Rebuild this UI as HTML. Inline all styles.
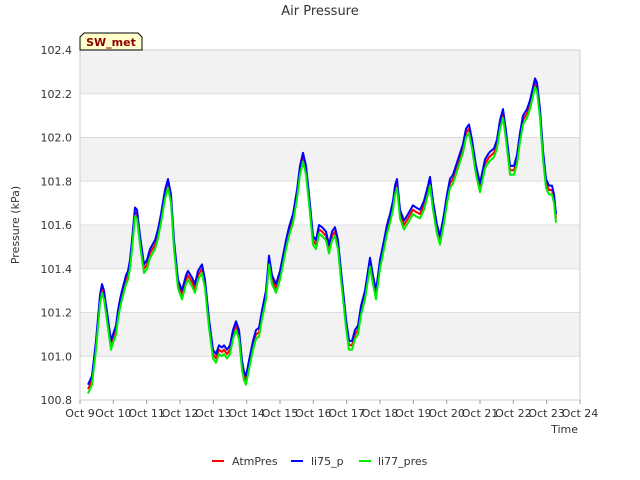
<!DOCTYPE html>
<html><head><meta charset="utf-8"><style>
body{margin:0;background:#fff;}
svg{display:block;font-family:"DejaVu Sans","Liberation Sans",sans-serif;}
</style></head><body>
<svg id="chart" width="640" height="480">
<rect x="0" y="0" width="640" height="480" fill="#fff"/>
<g id="bands"></g>
<g id="grid"></g>
<rect x="80" y="50" width="500" height="350" fill="none" stroke="#ccc"/>
<g id="yticks"></g>
<g id="xticks"></g>
<g id="series"></g>
<text x="320" y="15" text-anchor="middle" font-size="13" fill="#333">Air Pressure</text>
<text x="19" y="225" text-anchor="middle" font-size="11" fill="#333" transform="rotate(-90 19 225)">Pressure (kPa)</text>
<text x="578" y="433" text-anchor="end" font-size="11" fill="#333">Time</text>
<g>
<path d="M80,50 L80,37 L84,33 L138,33 L142,37 L142,50 Z" fill="#ffffcc" stroke="#000" stroke-width="1"/>
<text x="111" y="46" text-anchor="middle" font-size="11" font-weight="bold" fill="#8b0000">SW_met</text>
</g>
<g>
<g><line x1="212" y1="461" x2="224" y2="461" stroke="#f00" stroke-width="2"/><text x="232" y="465" font-size="11" fill="#333">AtmPres</text></g>
<g><line x1="291" y1="461" x2="303" y2="461" stroke="#00f" stroke-width="2"/><text x="311" y="465" font-size="11" fill="#333">li75_p</text></g>
<g><line x1="359" y1="461" x2="371" y2="461" stroke="#0e0" stroke-width="2"/><text x="378" y="465" font-size="11" fill="#333">li77_pres</text></g>
</g>
</svg>
<script>
const yTicks=[100.8,101.0,101.2,101.4,101.6,101.8,102.0,102.2,102.4];
const xTickLabels=["Oct 9","Oct 10","Oct 11","Oct 12","Oct 13","Oct 14","Oct 15","Oct 16","Oct 17","Oct 18","Oct 19","Oct 20","Oct 21","Oct 22","Oct 23","Oct 24"];
const times=[0.24,0.36,0.48,0.60,0.66,0.72,0.84,0.93,0.99,1.08,1.14,1.20,1.26,1.38,1.44,1.50,1.56,1.65,1.71,1.80,1.92,2.01,2.10,2.25,2.34,2.43,2.55,2.64,2.73,2.82,2.94,3.06,3.18,3.24,3.36,3.45,3.54,3.66,3.75,3.87,3.99,4.08,4.17,4.26,4.32,4.41,4.50,4.59,4.68,4.77,4.86,4.92,4.98,5.07,5.19,5.28,5.37,5.46,5.58,5.67,5.76,5.88,6.00,6.09,6.18,6.27,6.39,6.51,6.60,6.69,6.78,6.87,6.99,7.08,7.17,7.26,7.38,7.47,7.56,7.65,7.74,7.83,7.92,7.98,8.07,8.16,8.25,8.34,8.43,8.55,8.64,8.70,8.79,8.88,9.00,9.12,9.21,9.30,9.39,9.45,9.51,9.60,9.72,9.84,9.99,10.08,10.20,10.32,10.44,10.50,10.59,10.71,10.80,10.92,11.01,11.10,11.19,11.34,11.49,11.58,11.67,11.76,11.88,12.00,12.15,12.27,12.42,12.51,12.60,12.69,12.78,12.90,13.02,13.11,13.20,13.29,13.41,13.50,13.59,13.65,13.71,13.80,13.89,13.98,14.07,14.16,14.22,14.28];
const atmPres=[100.85,100.89,101.05,101.26,101.31,101.28,101.15,101.05,101.08,101.12,101.19,101.24,101.28,101.35,101.37,101.42,101.51,101.66,101.65,101.53,101.40,101.42,101.47,101.51,101.56,101.63,101.74,101.79,101.72,101.51,101.33,101.28,101.35,101.37,101.34,101.31,101.37,101.40,101.33,101.15,101.01,100.99,101.03,101.02,101.03,101.01,101.03,101.10,101.14,101.10,100.96,100.91,100.89,100.96,101.05,101.10,101.11,101.19,101.28,101.44,101.35,101.31,101.37,101.44,101.51,101.57,101.63,101.74,101.85,101.91,101.85,101.72,101.53,101.51,101.58,101.57,101.55,101.49,101.55,101.57,101.51,101.37,101.24,101.15,101.05,101.05,101.10,101.12,101.21,101.28,101.37,101.43,101.35,101.28,101.42,101.51,101.58,101.63,101.69,101.76,101.79,101.65,101.60,101.63,101.67,101.66,101.65,101.69,101.76,101.80,101.69,101.58,101.53,101.63,101.72,101.79,101.81,101.88,101.95,102.02,102.04,101.97,101.85,101.77,101.88,101.91,101.93,101.97,102.06,102.11,102.01,101.85,101.85,101.90,102.00,102.08,102.11,102.15,102.21,102.25,102.23,102.11,101.92,101.79,101.76,101.76,101.72,101.63];
const li75P=[100.87,100.91,101.07,101.28,101.33,101.30,101.17,101.07,101.10,101.14,101.21,101.26,101.30,101.37,101.39,101.44,101.53,101.68,101.67,101.55,101.42,101.44,101.49,101.53,101.58,101.65,101.76,101.81,101.74,101.53,101.35,101.30,101.37,101.39,101.36,101.33,101.39,101.42,101.35,101.17,101.03,101.01,101.05,101.04,101.05,101.03,101.05,101.12,101.16,101.12,100.98,100.93,100.91,100.98,101.07,101.12,101.13,101.21,101.30,101.46,101.37,101.33,101.39,101.46,101.53,101.59,101.65,101.76,101.87,101.93,101.87,101.74,101.55,101.53,101.60,101.59,101.57,101.51,101.57,101.59,101.53,101.39,101.26,101.17,101.07,101.07,101.12,101.14,101.23,101.30,101.39,101.45,101.37,101.30,101.44,101.53,101.60,101.65,101.71,101.78,101.81,101.67,101.62,101.65,101.69,101.68,101.67,101.71,101.78,101.82,101.71,101.60,101.55,101.65,101.74,101.81,101.83,101.90,101.97,102.04,102.06,101.99,101.87,101.79,101.90,101.93,101.95,101.99,102.08,102.13,102.03,101.87,101.87,101.92,102.02,102.10,102.13,102.17,102.23,102.27,102.25,102.13,101.94,101.81,101.78,101.78,101.74,101.65];
const li77Pres=[100.83,100.87,101.03,101.24,101.29,101.26,101.13,101.03,101.06,101.10,101.17,101.22,101.26,101.33,101.35,101.40,101.49,101.64,101.63,101.51,101.38,101.40,101.45,101.49,101.54,101.61,101.72,101.77,101.70,101.49,101.31,101.26,101.33,101.35,101.32,101.29,101.35,101.38,101.31,101.13,100.99,100.97,101.01,101.00,101.01,100.99,101.01,101.08,101.12,101.08,100.94,100.89,100.87,100.94,101.03,101.08,101.09,101.17,101.26,101.42,101.33,101.29,101.35,101.42,101.49,101.55,101.61,101.72,101.83,101.89,101.83,101.70,101.51,101.49,101.56,101.55,101.53,101.47,101.53,101.55,101.49,101.35,101.22,101.13,101.03,101.03,101.08,101.10,101.19,101.26,101.35,101.41,101.33,101.26,101.40,101.49,101.56,101.61,101.67,101.74,101.77,101.63,101.58,101.61,101.65,101.64,101.63,101.67,101.74,101.78,101.67,101.56,101.51,101.61,101.70,101.77,101.79,101.86,101.93,102.00,102.02,101.95,101.83,101.75,101.86,101.89,101.91,101.95,102.04,102.09,101.99,101.83,101.83,101.88,101.98,102.06,102.09,102.13,102.19,102.23,102.21,102.09,101.90,101.77,101.74,101.74,101.70,101.61];

const X0=80,X1=580,Y0=400,Y1=50,DMIN=0,DMAX=15,VMIN=100.8,VMAX=102.4;
const NS="http://www.w3.org/2000/svg";
function xs(d){return X0+(d-DMIN)/(DMAX-DMIN)*(X1-X0);}
function ys(v){return Y0-(v-VMIN)/(VMAX-VMIN)*(Y0-Y1);}
function mk(tag,attrs,parent){const e=document.createElementNS(NS,tag);for(const k in attrs)e.setAttribute(k,attrs[k]);parent.appendChild(e);return e;}

const bands=document.getElementById('bands'),grid=document.getElementById('grid'),yt=document.getElementById('yticks'),xt=document.getElementById('xticks'),ser=document.getElementById('series');
for(let i=0;i<yTicks.length-1;i++){
  if(i%2===1){
    const r=mk('rect',{x:X0,y:ys(yTicks[i+1]),width:X1-X0,height:ys(yTicks[i])-ys(yTicks[i+1]),fill:'#f2f2f2'},bands);
    
    
  }
}
yTicks.forEach(v=>{
  const l=mk('line',{x1:X0,x2:X1,y1:ys(v),y2:ys(v),stroke:'#ddd'},grid);
  
  
  const t=mk('text',{x:72,y:ys(v)+4,'text-anchor':'end','font-size':'11',fill:'#333'},yt);
  t.textContent=v.toFixed(1);
  
  
});
xTickLabels.forEach((s,i)=>{
  const x=xs(i);
  const tk=mk('line',{x1:x,x2:x,y1:Y0,y2:Y0+4,stroke:'#999'},xt);
  
  
  const t=mk('text',{x:x,y:Y0+17,'text-anchor':'middle','font-size':'11',fill:'#333'},xt);
  t.textContent=s;
  
  
});
function drawSeries(vals,color,name){
  const d=vals.map((v,i)=>(i?'L':'M')+xs(times[i]).toFixed(1)+','+ys(v).toFixed(1)).join(' ');
  const p=mk('path',{d:d,fill:'none',stroke:color,'stroke-width':'2','stroke-linejoin':'round'},ser);
  
  
}
drawSeries(atmPres,'#f00','atmpres-line');
drawSeries(li75P,'#00f','li75-p-line');
drawSeries(li77Pres,'#0e0','li77-pres-line');
</script>
</body></html>
